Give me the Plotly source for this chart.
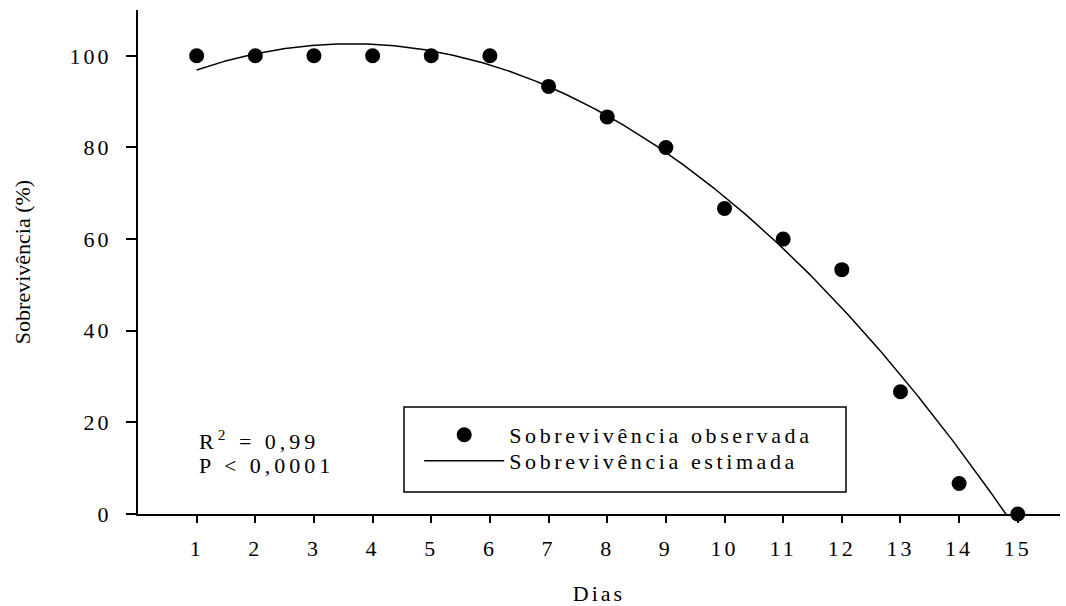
import numpy as np
import plotly.graph_objects as go

# Observed survival (%) per day
dias = [1, 2, 3, 4, 5, 6, 7, 8, 9, 10, 11, 12, 13, 14, 15]
sobrevivencia = [100, 100, 100, 100, 100, 100, 93.33, 86.67, 80, 66.67,
                 60, 53.33, 26.67, 6.67, 0]
y_ticks = [0, 20, 40, 60, 80, 100]
r2_label = "R<sup>2</sup> = 0,99"
p_label = "P &lt; 0,0001"

# Quadratic regression of survival on days
coef = np.polyfit(dias, sobrevivencia, 2)
x_fit = np.linspace(dias[0], dias[-1], 400)
y_fit = np.polyval(coef, x_fit)

FONT = "Liberation Serif"
BLACK = "#000000"

fig = go.Figure()
fig.add_trace(go.Scatter(
    x=x_fit, y=y_fit, mode="lines", name="Sobrevivência estimada",
    line=dict(color=BLACK, width=1.5), legend="legend2", hoverinfo="skip"))
fig.add_trace(go.Scatter(
    x=dias, y=sobrevivencia, mode="markers", name="Sobrevivência observada",
    marker=dict(color=BLACK, size=15, line=dict(width=0)),
    cliponaxis=False, legend="legend"))

axis_common = dict(
    showline=True, linecolor=BLACK, linewidth=2, mirror=False,
    ticks="outside", tickcolor=BLACK, tickwidth=2,
    showgrid=False, zeroline=False, automargin=False,
    tickfont=dict(family=FONT, size=22, color=BLACK),
)

legend_common = dict(
    x=0.305, xanchor="left", yanchor="top",
    bgcolor="rgba(0,0,0,0)", borderwidth=0, itemwidth=80,
    font=dict(family=FONT, size=22, color=BLACK),
)

fig.update_layout(
    width=1066, height=606,
    margin=dict(l=138, r=6, t=10, b=92),
    paper_bgcolor="white", plot_bgcolor="white",
    font=dict(family=FONT, color=BLACK),
    xaxis=dict(
        axis_common, range=[0, 15.72], tickvals=dias, ticklen=7,
        ticklabelstandoff=7,
        title=dict(text="Dias", font=dict(family=FONT, size=22, color=BLACK),
                   standoff=25),
    ),
    yaxis=dict(
        axis_common, range=[0, 110], tickvals=y_ticks, ticklen=10,
        ticklabelstandoff=10,
        title=dict(text="Sobrevivência (%)",
                   font=dict(family=FONT, size=22, color=BLACK), standoff=42),
    ),
    showlegend=True,
    legend=dict(legend_common, y=0.1984),
    legend2=dict(legend_common, y=0.1468),
    shapes=[dict(
        type="rect", xref="paper", yref="paper",
        x0=0.2885, x1=0.7679, y0=0.0437, y1=0.2123,
        line=dict(color=BLACK, width=1.5), fillcolor="rgba(0,0,0,0)",
    )],
    annotations=[
        dict(text=r2_label, xref="paper", yref="paper", x=0.0645, y=0.1468,
             xanchor="left", yanchor="middle", align="left", showarrow=False,
             font=dict(family=FONT, size=22, color=BLACK)),
        dict(text=p_label, xref="paper", yref="paper", x=0.0645, y=0.0972,
             xanchor="left", yanchor="middle", align="left", showarrow=False,
             font=dict(family=FONT, size=22, color=BLACK)),
    ],
)

# Letter-spaced typesetting for tick labels, legends, notes and x title
spacing_js = """
var gd = document.getElementById('{plot_id}');
function spaceText() {
  gd.querySelectorAll('.xtick text, .ytick text, .xtitle').forEach(function (t) {
    t.style.letterSpacing = '3px';
  });
  gd.querySelectorAll('text.legendtext, text.legend2text').forEach(function (t) {
    t.style.letterSpacing = '3.6px';
  });
  gd.querySelectorAll('.annotation-text').forEach(function (t) {
    t.style.letterSpacing = '4px';
  });
  gd.querySelectorAll('.scrollbox').forEach(function (s) {
    s.removeAttribute('clip-path');
  });
}
spaceText();
gd.on('plotly_afterplot', spaceText);
new MutationObserver(spaceText).observe(gd, {childList: true, subtree: true});
"""

fig.write_html("out.html", post_script=spacing_js)
